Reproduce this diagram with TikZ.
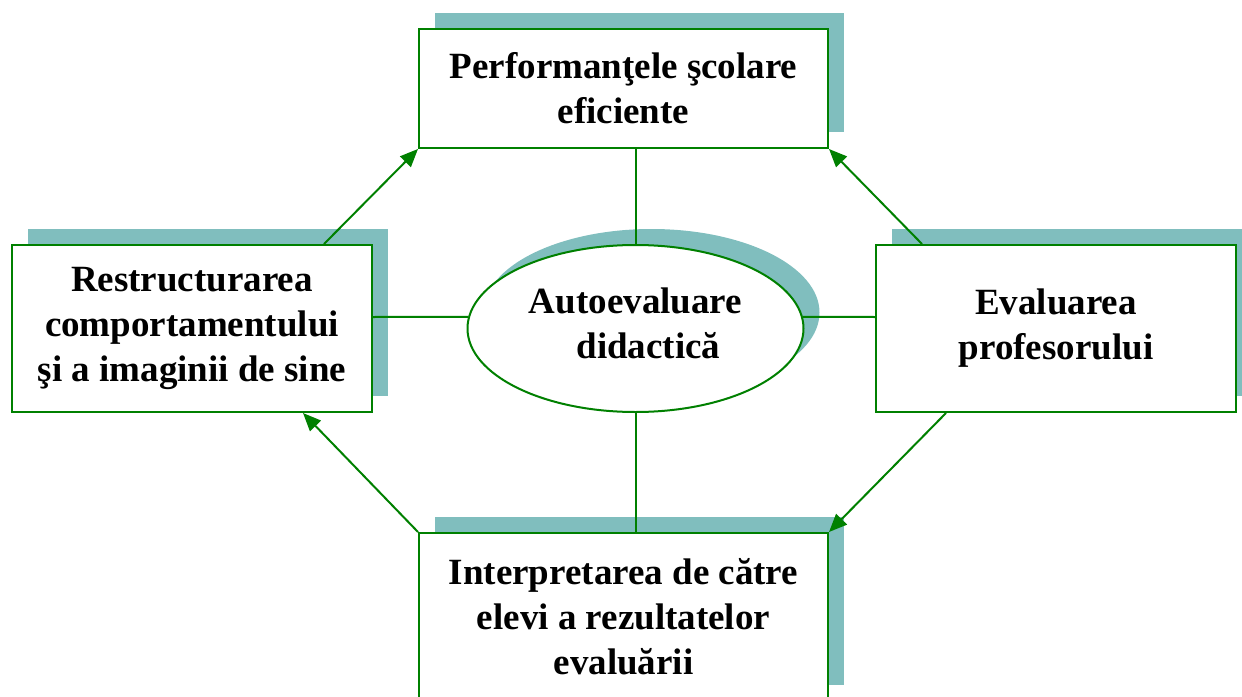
\documentclass[tikz,border=0pt]{standalone}
\usepackage{fontspec}
\setmainfont{Liberation Serif}
\usetikzlibrary{arrows.meta,shadows,shapes.geometric}
\definecolor{lineg}{RGB}{0,128,0}
\definecolor{shade}{RGB}{128,190,190}
\tikzset{
  shd/.style={general shadow={shadow xshift=16pt,shadow yshift=16pt,fill=shade,opacity=1}},
  txt/.style={inner sep=0pt,align=center,font=\fontsize{37}{45}\selectfont\bfseries},
  box/.style={draw=lineg,line width=2pt,fill=white,shd,txt},
  conn/.style={draw=lineg,line width=2pt},
  arr/.style={conn,-{Triangle[length=18pt,width=15pt]}}
}
\begin{document}
\begin{tikzpicture}[x=1pt,y=-1pt]
\useasboundingbox (0,0) rectangle (1242,696);
\node[box,minimum width=409pt,minimum height=119pt] (top) at (623.5,88.5) {Performanţele şcolare\\eficiente};
\node[box,minimum width=360pt,minimum height=167pt] (left) at (192,328.5) {Restructurarea\\comportamentului\\şi a imaginii de sine};
\node[box,minimum width=360pt,minimum height=167pt] (right) at (1056,328.5) {Evaluarea\\profesorului};
\node[box,minimum width=409pt,minimum height=168pt] (bottom) at (623.5,617) {Interpretarea de către\\elevi a rezultatelor\\evaluării};
\node[box,ellipse,minimum width=336pt,minimum height=167pt] (ell) at (635.5,328.5) {};
\node[txt] (elltext) at ([yshift=5pt]ell.center) {Autoevaluare\\\hspace*{26pt}didactică};
\draw[conn] (ell.north |- top.south) -- (ell.north);
\draw[conn] (ell.south) -- (ell.south |- bottom.north);
\draw[conn] ([yshift=11.5pt]left.east) -- (ell.176);
\draw[conn] (ell.4) -- ([yshift=11.5pt]right.west);
\draw[arr] ([xshift=-49pt]left.north east) -- (top.south west);
\draw[arr] ([xshift=47pt]right.north west) -- (top.south east);
\draw[arr] ([xshift=71pt]right.south west) -- (bottom.north east);
\draw[arr] (bottom.north west) -- ([xshift=-70pt]left.south east);
\end{tikzpicture}
\end{document}
